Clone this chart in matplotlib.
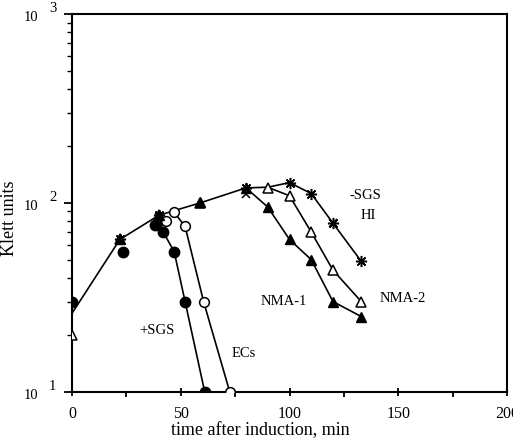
import matplotlib
matplotlib.use("Agg")
import matplotlib.pyplot as plt

plt.rcParams['font.family'] = ['Liberation Serif', 'DejaVu Serif']

# marker data (time in min, Klett units)
t_plus_sgs = [0, 23.5, 38, 42, 47, 52, 61]
k_plus_sgs = [30, 55, 76, 70, 55, 30, 10]

t_ecs = [43, 47, 52, 60.5, 72.5]
k_ecs = [80, 89, 75, 30, 10]

t_nma1 = [22, 40, 59, 80, 90, 100, 110, 120, 133]
k_nma1 = [64, 86, 101, 120, 95, 64, 50, 30, 25]

t_nma2 = [0, 22, 40, 59, 90, 100, 110, 120, 133]
k_nma2 = [20, 64, 86, 100, 120, 109, 70, 44, 30]

t_minus_sgs = [22, 40, 80, 100, 110, 120, 133]
k_minus_sgs = [64, 86, 120, 128, 112, 78, 49]

t_hi = [40, 80, 120]
k_hi = [84, 112, 78]

# drawn curves
t_growth = [0, 22, 40, 59, 80, 90, 100]
k_growth = [26, 64, 86, 100, 120, 121, 128]
t_line_plus = [40, 42, 47, 52, 61]
k_line_plus = [86, 70, 55, 30, 10]
t_line_ecs = [47, 52, 60.5, 72.5]
k_line_ecs = [89, 75, 30, 10]
t_line_nma1 = [80, 90, 100, 110, 120, 133]
k_line_nma1 = [120, 95, 64, 50, 30, 25]
t_line_nma2 = [90, 100, 110, 120, 133]
k_line_nma2 = [121, 109, 70, 44, 30]
t_line_minus = [100, 110, 120, 133]
k_line_minus = [128, 112, 78, 49]

# labels: text, time, klett
etiquetas = [("+SGS", 39, 21), ("ECs", 79, 15.9), ("NMA-1", 97.5, 30),
             ("NMA-2", 152, 31), ("-SGS", 135, 109), ("HI", 136, 86)]

fig = plt.figure(figsize=(5.13, 4.48), dpi=100)
ax = fig.add_axes([72 / 513, 56.3 / 448, 435 / 513, 377.7 / 448])
ax.set_yscale('log')
ax.set_xlim(0, 200)
ax.set_ylim(10, 1000)

lw = 1.2
for tx, ky in [(t_growth, k_growth), (t_line_plus, k_line_plus), (t_line_ecs, k_line_ecs),
               (t_line_nma1, k_line_nma1), (t_line_nma2, k_line_nma2),
               (t_line_minus, k_line_minus)]:
    ax.plot(tx, ky, color='black', lw=lw, zorder=2)

ax.plot(t_nma2, k_nma2, ls='none', marker='^', ms=7, mfc='white', mec='black', mew=1.1, zorder=3)
ax.plot(t_nma1, k_nma1, ls='none', marker='^', ms=7, mfc='black', mec='black', zorder=4)
ax.plot(t_ecs, k_ecs, ls='none', marker='o', ms=7, mfc='white', mec='black', mew=1.1, zorder=3)
ax.plot(t_plus_sgs, k_plus_sgs, ls='none', marker='o', ms=7.5, mfc='black', mec='black', zorder=4)
ax.plot(t_minus_sgs, k_minus_sgs, ls='none', marker=(8, 2, 0), ms=8, mec='black', mew=1.1, zorder=5)
ax.plot(t_hi, k_hi, ls='none', marker='x', ms=6, mec='black', mew=1.1, zorder=5)

for txt, tx, ky in etiquetas:
    ax.text(tx, ky, txt, fontsize=10.5, ha='center', va='center')

for s in ax.spines.values():
    s.set_linewidth(1.5)

ax.set_xticks([0, 50, 100, 150, 200])
ax.set_xticks([25, 75, 125, 175], minor=True)
ax.tick_params(axis='x', which='major', direction='inout', length=6, width=1.3, pad=7,
               labelsize=11.5)
ax.tick_params(axis='x', which='minor', direction='out', length=3.5, width=1.3)

# y tick labels written by hand as 10 with raised exponent
ax.set_yticks([10, 100, 1000])
ax.set_yticklabels([])
ax.tick_params(axis='y', which='major', direction='out', length=6, width=1.3)
ax.tick_params(axis='y', which='minor', direction='out', length=3.5, width=1.0)
for exp, val in [(1, 10), (2, 100), (3, 1000)]:
    ax.annotate("10", xy=(0, val), xycoords=('axes fraction', 'data'),
                xytext=(-24.5, -2.5), textcoords='offset points',
                ha='right', va='center', fontsize=10.5, annotation_clip=False)
    ax.annotate(str(exp), xy=(0, val), xycoords=('axes fraction', 'data'),
                xytext=(-16.6, 3.6), textcoords='offset points',
                ha='left', va='center', fontsize=10.5, annotation_clip=False)

fig.text(260 / 513, 1 - 431 / 448, "time after induction, min", fontsize=13,
         ha='center', va='center')
fig.text(10 / 513, 1 - 218 / 448, "Klett units", fontsize=13, rotation=90,
         ha='center', va='center')

fig.savefig("out.png", dpi=100)
